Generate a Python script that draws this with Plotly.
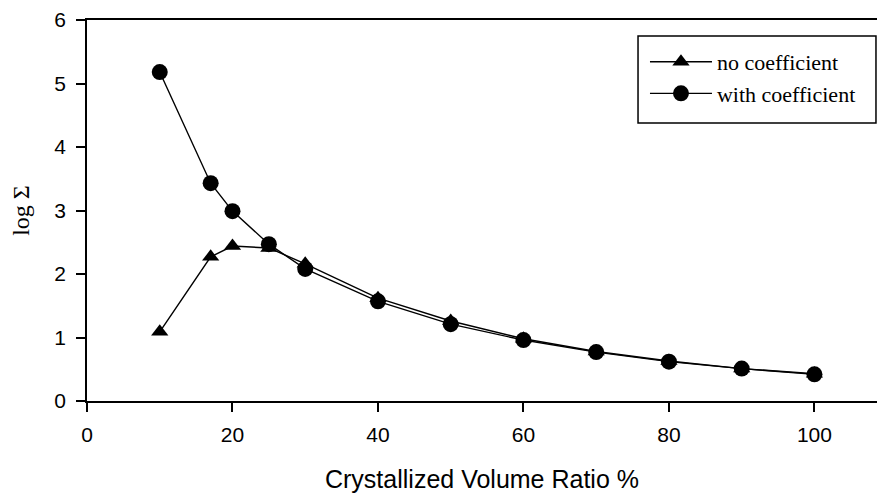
import plotly.graph_objects as go

x_vals = [10, 17, 20, 25, 30, 40, 50, 60, 70, 80, 90, 100]
no_coef = [1.09, 2.27, 2.44, 2.41, 2.16, 1.62, 1.26, 0.98, 0.78, 0.63, 0.51, 0.43]
with_coef = [5.18, 3.43, 2.99, 2.47, 2.08, 1.57, 1.21, 0.96, 0.77, 0.62, 0.51, 0.42]

x_ticks = [0, 20, 40, 60, 80, 100]
y_ticks = [0, 1, 2, 3, 4, 5, 6]

fig = go.Figure()
fig.add_trace(go.Scatter(
    x=x_vals, y=no_coef, mode="lines+markers", name="no coefficient",
    line=dict(color="black", width=1.4),
    marker=dict(symbol="triangle-up", size=15, color="black"),
))
fig.add_trace(go.Scatter(
    x=x_vals, y=with_coef, mode="lines+markers", name="with coefficient",
    line=dict(color="black", width=1.4),
    marker=dict(symbol="circle", size=16, color="black"),
))

# legend frame (paper coordinates)
fig.add_shape(type="rect", xref="paper", yref="paper",
              x0=0.6975, x1=0.9987, y0=0.7297, y1=0.958,
              line=dict(color="black", width=1.5), fillcolor="rgba(0,0,0,0)",
              layer="above")

fig.update_layout(
    width=877, height=494,
    margin=dict(l=87, r=0, t=20, b=93),
    plot_bgcolor="white", paper_bgcolor="white",
    showlegend=True,
    legend=dict(
        x=0.7063, y=0.945, xanchor="left", yanchor="top",
        borderwidth=0, bgcolor="rgba(0,0,0,0)",
        font=dict(family="Liberation Serif", size=22, color="black"),
        itemwidth=62, tracegroupgap=0,
    ),
    xaxis=dict(
        range=[0, 108.6], tickvals=x_ticks, ticktext=[str(v) for v in x_ticks],
        showline=True, linecolor="black", linewidth=1.5, mirror=True,
        ticks="outside", ticklen=9, tickwidth=1.5, tickcolor="black",
        showgrid=False, zeroline=False,
        tickfont=dict(family="Liberation Sans", size=21, color="black"),
        ticklabelstandoff=5,
        title=dict(text="Crystallized Volume Ratio %",
                   font=dict(family="Liberation Sans", size=25, color="black"),
                   standoff=26),
    ),
    yaxis=dict(
        range=[0, 6], tickvals=y_ticks, ticktext=[str(v) for v in y_ticks],
        showline=True, linecolor="black", linewidth=1.5,
        ticks="outside", ticklen=9, tickwidth=1.5, tickcolor="black",
        showgrid=False, zeroline=False,
        tickfont=dict(family="Liberation Sans", size=21, color="black"),
        ticklabelstandoff=6,
        title=dict(text="log Σ",
                   font=dict(family="Liberation Serif", size=24, color="black"),
                   standoff=18),
    ),
)

fig.write_html("out.html")
